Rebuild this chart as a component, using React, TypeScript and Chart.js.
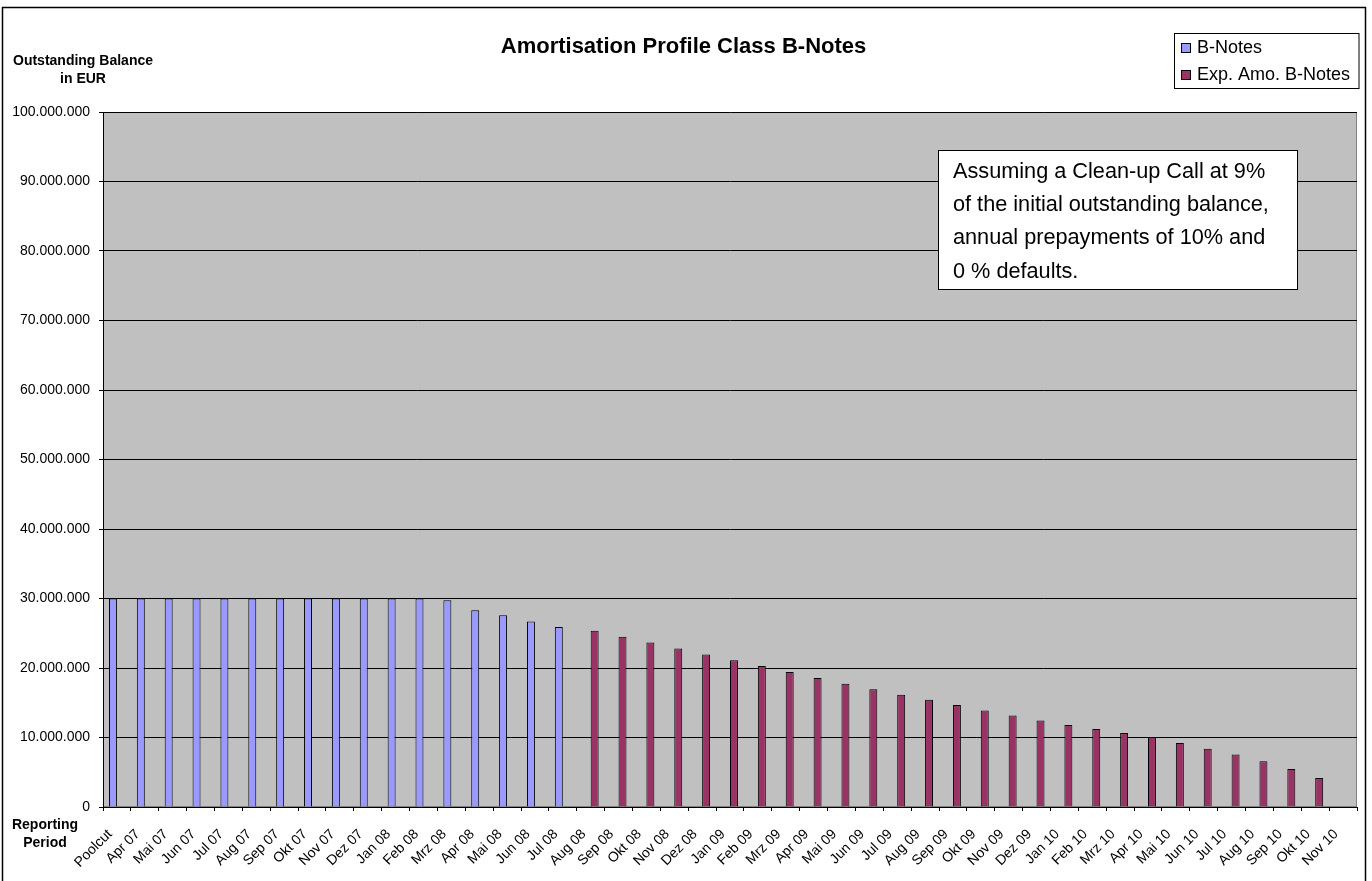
import React, { useEffect, useRef } from 'react';
import { Chart, registerables } from 'chart.js';

Chart.register(...registerables);

const FONT = '"Liberation Sans", Arial, Helvetica, sans-serif';

const categories: string[] = [
  'Poolcut', 'Apr 07', 'Mai 07', 'Jun 07', 'Jul 07', 'Aug 07', 'Sep 07', 'Okt 07', 'Nov 07', 'Dez 07',
  'Jan 08', 'Feb 08', 'Mrz 08', 'Apr 08', 'Mai 08', 'Jun 08', 'Jul 08', 'Aug 08', 'Sep 08', 'Okt 08', 'Nov 08', 'Dez 08',
  'Jan 09', 'Feb 09', 'Mrz 09', 'Apr 09', 'Mai 09', 'Jun 09', 'Jul 09', 'Aug 09', 'Sep 09', 'Okt 09', 'Nov 09', 'Dez 09',
  'Jan 10', 'Feb 10', 'Mrz 10', 'Apr 10', 'Mai 10', 'Jun 10', 'Jul 10', 'Aug 10', 'Sep 10', 'Okt 10', 'Nov 10',
];

// B-Notes (actual), Poolcut .. Jul 08
const bNotes: (number | null)[] = [
  30000000, 30000000, 30000000, 30000000, 30000000, 30000000, 30000000, 30000000, 30000000, 30000000,
  30000000, 30000000, 29750000, 28300000, 27600000, 26700000, 25900000,
  null, null, null, null, null, null, null, null, null, null, null, null, null, null, null, null, null,
  null, null, null, null, null, null, null, null, null, null, null,
];

// Expected amortisation, Aug 08 .. Okt 10
const expAmo: (number | null)[] = [
  null, null, null, null, null, null, null, null, null, null,
  null, null, null, null, null, null, null,
  25350000, 24490000, 23670000, 22810000, 21950000,
  21130000, 20270000, 19410000, 18550000, 17730000, 16960000, 16150000, 15430000, 14660000, 13900000, 13180000, 12460000,
  11790000, 11210000, 10640000, 10060000, 9200000, 8390000, 7570000, 6570000, 5460000, 4170000, null,
];

const seriesLabels = ['B-Notes', 'Exp. Amo. B-Notes'];
const seriesColors = ['#9999FF', '#993366'];

const chartTitle = 'Amortisation Profile Class B-Notes';
const yTitle = ['Outstanding Balance', 'in EUR'];
const xTitle = ['Reporting', 'Period'];
const noteLines = [
  'Assuming a Clean-up Call at 9%',
  'of the initial outstanding balance,',
  'annual prepayments of 10% and',
  '0 % defaults.',
];

const fmt = (v: number | string) => {
  const s = String(Math.round(Number(v)));
  return s.replace(/\B(?=(\d{3})+(?!\d))/g, '.');
};

const decor = {
  id: 'decor',
  beforeDraw(chart: any) {
    const { ctx, chartArea: a } = chart;
    ctx.save();
    ctx.fillStyle = '#ffffff';
    ctx.fillRect(0, 0, chart.width, chart.height);
    ctx.fillStyle = '#C0C0C0';
    ctx.fillRect(a.left, a.top, a.right - a.left, a.bottom - a.top);
    ctx.strokeStyle = '#808080';
    ctx.lineWidth = 1;
    ctx.strokeRect(a.left + 0.5, a.top + 0.5, a.right - a.left - 1, a.bottom - a.top - 1);
    ctx.strokeStyle = '#000';
    ctx.lineWidth = 1.5;
    ctx.strokeRect(2.5, 7.5, 1363, 880);
    ctx.restore();
  },
  afterDraw(chart: any) {
    const { ctx } = chart;
    ctx.save();
    ctx.fillStyle = '#000';
    // title
    ctx.font = `bold 22px ${FONT}`;
    ctx.textAlign = 'center';
    ctx.textBaseline = 'alphabetic';
    ctx.fillText(chartTitle, 683.5, 53);
    // axis titles
    ctx.font = `bold 14px ${FONT}`;
    ctx.fillText(yTitle[0], 83, 65);
    ctx.fillText(yTitle[1], 83, 82.5);
    ctx.fillText(xTitle[0], 45, 828.5);
    ctx.fillText(xTitle[1], 45, 847);
    // legend
    ctx.fillStyle = '#fff';
    ctx.fillRect(1174, 33, 185, 55);
    ctx.strokeStyle = '#000';
    ctx.lineWidth = 1;
    ctx.strokeRect(1174.5, 33.5, 184.5, 55);
    ctx.font = `18px ${FONT}`;
    ctx.textAlign = 'left';
    seriesLabels.forEach((lab, i) => {
      const y = 43 + i * 27;
      ctx.fillStyle = seriesColors[i];
      ctx.fillRect(1181, y, 10, 10);
      ctx.strokeStyle = '#000';
      ctx.strokeRect(1181.5, y + 0.5, 9, 9);
      ctx.fillStyle = '#000';
      ctx.fillText(lab, 1197, 53 + i * 27);
    });
    // annotation box
    ctx.fillStyle = '#fff';
    ctx.fillRect(938, 150, 360, 140);
    ctx.strokeStyle = '#000';
    ctx.strokeRect(938.5, 150.5, 359, 139);
    ctx.fillStyle = '#000';
    ctx.font = `21.7px ${FONT}`;
    noteLines.forEach((t, i) => ctx.fillText(t, 953, 177.5 + i * 33.4));
    ctx.restore();
  },
};

export default function App() {
  const ref = useRef<HTMLCanvasElement | null>(null);
  useEffect(() => {
    if (!ref.current) return;
    Chart.defaults.font.family = FONT;
    const chart = new Chart(ref.current, {
      type: 'bar',
      data: {
        labels: categories,
        datasets: [
          {
            label: seriesLabels[0],
            data: bNotes,
            backgroundColor: seriesColors[0],
            borderColor: '#000',
            borderWidth: 1,
            categoryPercentage: 2 / 3.5,
            barPercentage: 1,
          },
          {
            label: seriesLabels[1],
            data: expAmo,
            backgroundColor: seriesColors[1],
            borderColor: '#000',
            borderWidth: 1,
            categoryPercentage: 2 / 3.5,
            barPercentage: 1,
          },
        ],
      },
      options: {
        responsive: false,
        animation: false,
        devicePixelRatio: 1,
        layout: { padding: { left: 0, right: 15, top: 112, bottom: 0 } },
        plugins: {
          legend: { display: false },
          title: { display: false },
          tooltip: { enabled: false },
        },
        scales: {
          x: {
            offset: true,
            grid: {
              display: true,
              offset: true,
              drawOnChartArea: false,
              drawTicks: true,
              tickLength: 4,
              color: '#000',
            },
            border: { color: '#000', width: 1 },
            ticks: {
              autoSkip: false,
              minRotation: 45,
              maxRotation: 45,
              color: '#000',
              padding: 15,
              labelOffset: -7,
              font: { family: FONT, size: 14 },
            },
            afterFit: (s: any) => {
              s.height = 74;
            },
          },
          y: {
            min: 0,
            max: 100000000,
            grid: { color: '#000', tickLength: 4, drawTicks: true },
            border: { color: '#000', width: 1 },
            ticks: {
              stepSize: 10000000,
              color: '#000',
              padding: 9,
              font: { family: FONT, size: 14 },
              callback: (v: any) => fmt(v),
            },
            afterFit: (s: any) => {
              s.width = 103;
            },
          },
        },
      },
      plugins: [decor],
    } as any);
    return () => chart.destroy();
  }, []);
  return (
    <div style={{ position: 'fixed', left: 0, top: 0, width: 1372, height: 881, background: '#fff' }}>
      <canvas ref={ref} width={1372} height={881} style={{ display: 'block', width: 1372, height: 881 }} />
    </div>
  );
}
